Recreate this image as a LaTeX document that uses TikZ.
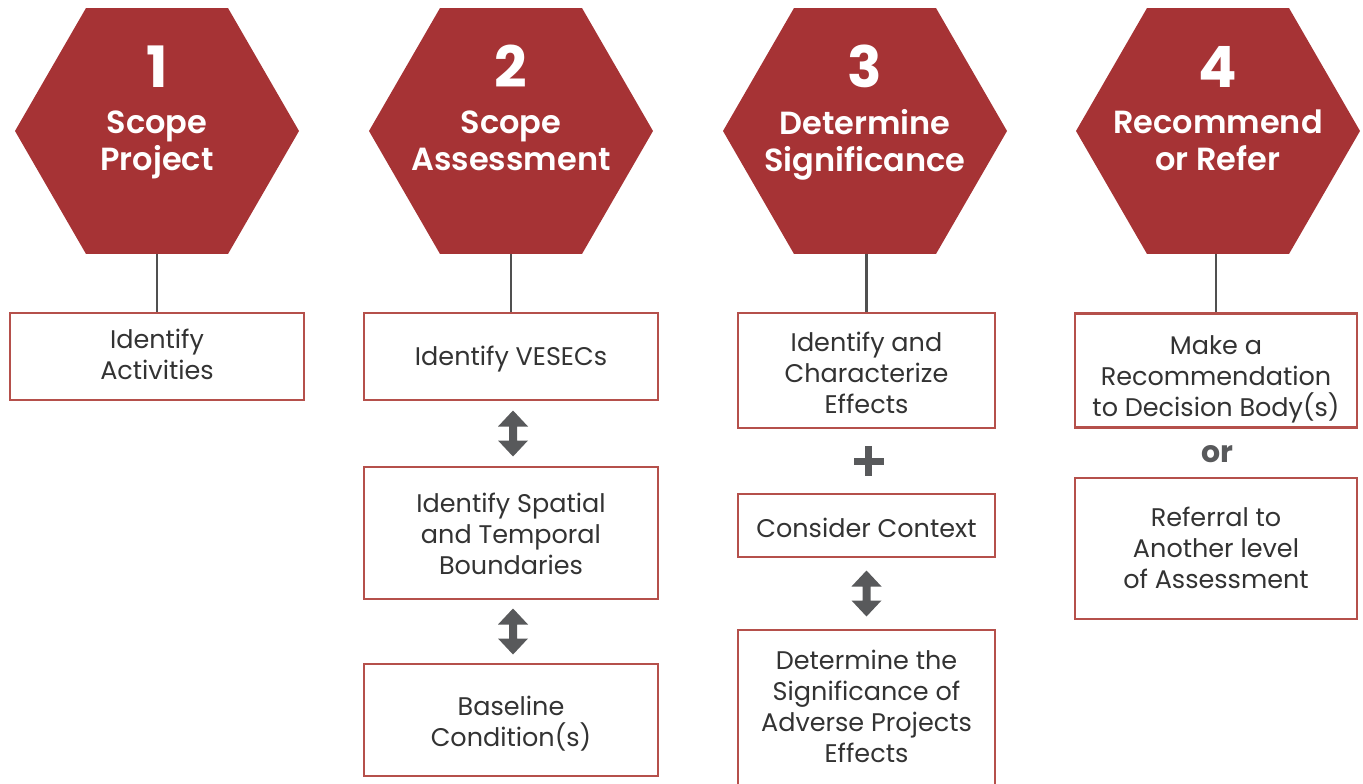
\documentclass[tikz,border=0pt]{standalone}
\usepackage{fontspec}
\setmainfont{Poppins}
\newfontfamily\semib{Poppins SemiBold}
\usetikzlibrary{shapes.geometric,calc}
\definecolor{hexred}{HTML}{A63335}
\definecolor{boxred}{HTML}{B5504B}
\definecolor{txt}{HTML}{333333}
\definecolor{arrgray}{HTML}{58595B}
\definecolor{linegray}{HTML}{505050}
\newcommand\dblarr[1]{\fill[arrgray] ([shift={(0,-23)}]#1) -- ++(15,16) -- ++(-11,0) -- ++(0,14) -- ++(11,0) -- ++(-15,16) -- ++(-15,-16) -- ++(11,0) -- ++(0,-14) -- ++(-11,0) -- cycle;}
\newcommand\plussign[1]{\fill[arrgray] ([shift={(-15,-3.5)}]#1) rectangle ++(30,7); \fill[arrgray] ([shift={(-3.5,-15)}]#1) rectangle ++(7,30);}
\newcommand\bt[1]{\rule{0pt}{#1pt}}
\newcommand\bb{\rule[-9.3pt]{0pt}{9.3pt}}
\begin{document}
\begin{tikzpicture}[x=1pt,y=-1pt,
  hexa/.style={regular polygon, regular polygon sides=6, minimum size=284, inner sep=0, outer sep=0, fill=hexred, draw=none},
  num/.style={font=\fontsize{57}{60}\selectfont\bfseries, text=white, anchor=base, inner sep=0},
  hlabel/.style={font=\fontsize{32}{37}\selectfont\semib, text=white, align=center, inner sep=0,
    execute at end node={\rule[-11.1pt]{0pt}{11.1pt}}},
  box/.style={draw=boxred, line width=2.5, fill=white, align=center, font=\fontsize{25.5}{31}\selectfont, text=txt, inner sep=0},
  conn/.style={draw=linegray, line width=2.5},
]
\useasboundingbox (0,0) rectangle (1363,784);
\clip (0,0) rectangle (1363,784);

% hexagons
\node[hexa] (h1) at (157,131) {};
\node[hexa] (h2) at (511,131) {};
\node[hexa] (h3) at (865,131) {};
\node[hexa] (h4) at (1218,131) {};

\node[num] (n1) at (157,88) {1};
\node[num] (n2) at (511,88) {2};
\node[num] (n3) at (865,88) {3};
\node[num] (n4) at (1218,88) {4};

\node[hlabel] (l1) at (157,146) {Scope\\Project};
\node[hlabel] (l2) at (511,146) {Scope\\Assessment};
\node[hlabel] (l3) at (865,146) {Determine\\Significance};
\node[hlabel] (l4) at (1218,146) {Recommend\\or Refer};

% boxes
\node[box, minimum width=294, minimum height=87] (b1) at (157,356.5) {\bt{25}Identify\\Activities\bb};

\node[box, minimum width=294, minimum height=87] (b2a) at (511,356.5) {\bt{27}Identify VESECs\bb};
\node[box, minimum width=294, minimum height=132] (b2b) at (511,533) {\bt{31}Identify Spatial\\and Temporal\\Boundaries\bb};
\node[box, minimum width=294, minimum height=112] (b2c) at (511,720) {\bt{32}Baseline\\Condition(s)\bb};

\node[box, minimum width=257, minimum height=115] (b3a) at (866.5,370.5) {\bt{34}Identify and\\Characterize\\Effects\bb};
\node[box, minimum width=257, minimum height=63] (b3b) at (866.5,525.5) {\bt{34}Consider Context\bb};
\node[box, minimum width=257, minimum height=160] (b3c) at (866.5,710) {\bt{21}Determine the\\Significance of\\Adverse Projects\\Effects\bb};

\node[box, minimum width=282, minimum height=114] (b4a) at (1216,370.5) {\bt{40}Make a\\Recommendation\\to Decision Body(s)\bb};
\node[box, minimum width=282, minimum height=141] (b4b) at (1216,548.5) {\bt{27}Referral to\\Another level\\of Assessment\bb};
\node[font=\fontsize{30}{34}\selectfont\bfseries, text=arrgray, inner sep=0] (or) at ($(b4a.south)!0.5!(b4b.north)+(1,1)$) {or};

% connectors
\draw[conn] (b1.north |- h1.south) -- (b1.north);
\draw[conn] (b2a.north |- h2.south) -- (b2a.north);
\draw[conn] (b3a.north |- h3.south) -- (b3a.north);
\draw[conn] (b4a.north |- h4.south) -- (b4a.north);

\coordinate (a1) at ($(b2a.south)!0.5!(b2b.north)+(2,0)$);
\coordinate (a2) at ($(b2b.south)!0.5!(b2c.north)+(2,0)$);
\coordinate (a3) at ($(b3b.south)!0.5!(b3c.north)$);
\coordinate (p1) at ($(b3a.south)!0.5!(b3b.north)+(2,0)$);
\dblarr{a1}
\dblarr{a2}
\dblarr{a3}
\plussign{p1}
\end{tikzpicture}
\end{document}
